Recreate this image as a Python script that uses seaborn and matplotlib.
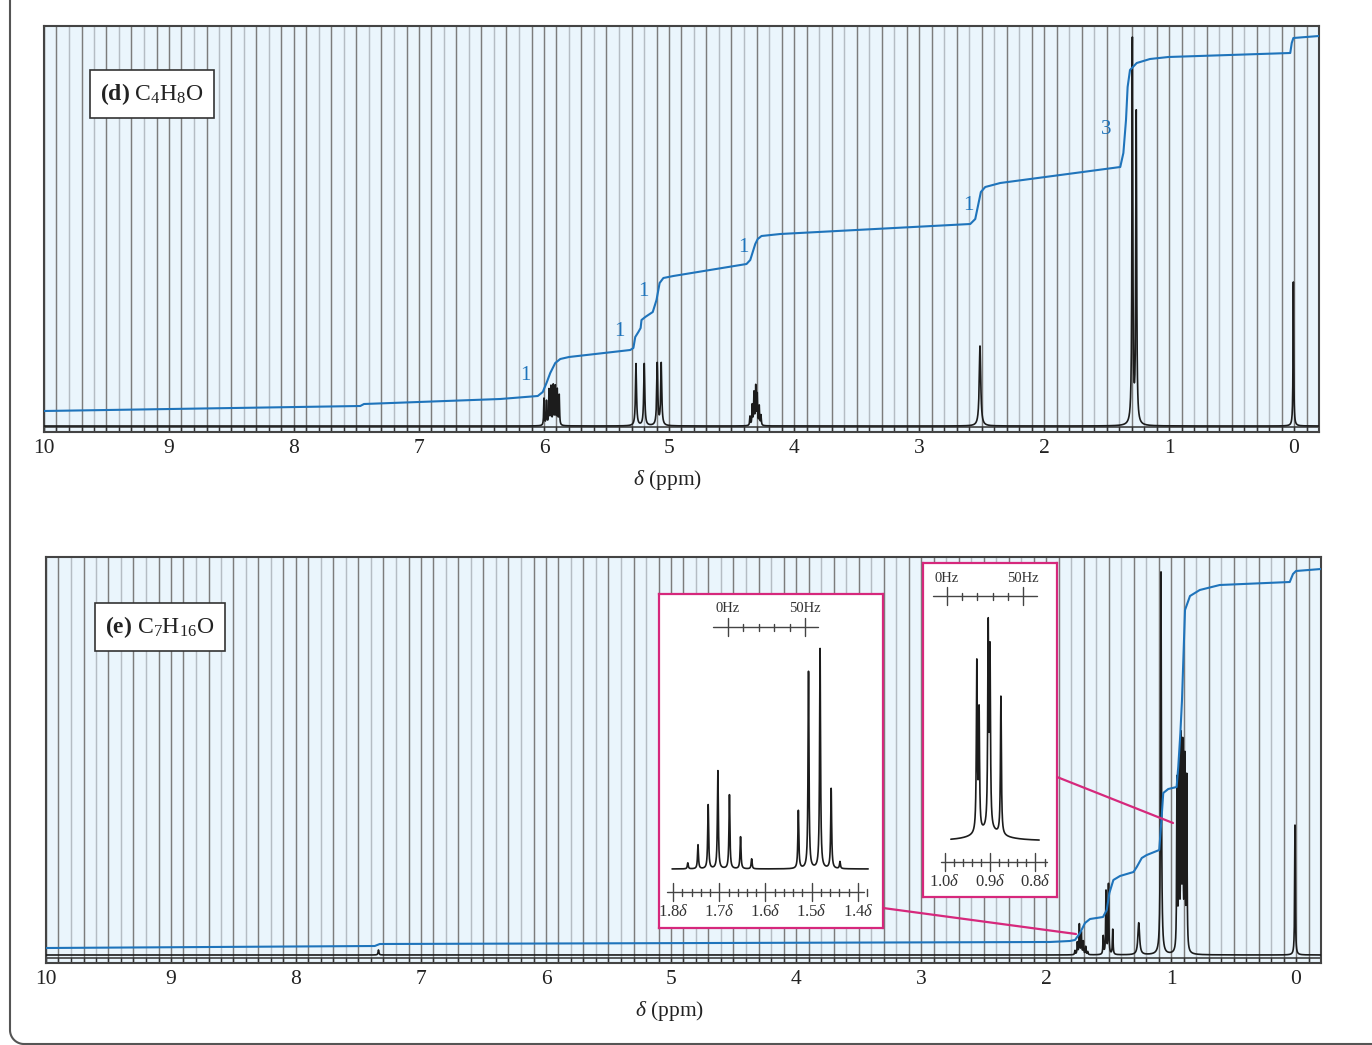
import numpy as np
import matplotlib
matplotlib.use('Agg')
import matplotlib.pyplot as plt
from matplotlib.lines import Line2D
import seaborn as sns

# peak lists (ppm, height in px above baseline, half width in ppm)
d_ppm = [6.00, 5.98, 5.96, 5.944, 5.926, 5.91, 5.894, 5.878,
         5.264, 5.198, 5.094, 5.062,
         4.352, 4.334, 4.32, 4.306, 4.294, 4.278, 4.264,
         2.512, 1.293, 1.262, 0.005]
d_height = [27, 24, 35, 38, 39, 38, 35, 30,
            62, 62, 62, 62,
            9, 20, 32, 38, 30, 19, 10,
            80, 384, 310, 144]
d_width = [0.003] * 8 + [0.005] * 4 + [0.003] * 7 + [0.007, 0.004, 0.004, 0.003]

# integration trace of (d)
d_int_ppm = [10.0, 7.47, 7.44, 6.35, 6.05, 6.01, 5.98, 5.95, 5.91, 5.87, 5.80, 5.31, 5.285,
             5.27, 5.245, 5.227, 5.22, 5.19, 5.13, 5.10, 5.075, 5.045, 4.965, 4.38, 4.35,
             4.33, 4.31, 4.29, 4.26, 4.11, 2.59, 2.55, 2.525, 2.505, 2.47, 2.35, 1.39, 1.365,
             1.344, 1.331, 1.312, 1.258, 1.152, 1.005, 0.03, 0.018, 0.005, -0.2]
d_int_h = [21, 26, 28, 33, 36, 40, 49, 59, 69, 73, 75, 82, 84,
           95, 100, 104, 112, 115, 120, 132, 149, 154, 156, 168, 172,
           180, 188, 193, 196, 198, 208, 213, 228, 240, 245, 249, 265, 279,
           312, 345, 362, 369, 373, 375, 379, 389, 394, 396]
d_int_labels = ['1', '1', '1', '1', '1', '3']
d_int_lab_ppm = [6.152, 5.40, 5.208, 4.408, 2.608, 1.504]
d_int_lab_h = [57, 100, 141, 184, 226, 302]

e_ppm = [7.34,
         1.768, 1.749, 1.733, 1.717, 1.701, 1.682, 1.666,
         1.542, 1.52, 1.50, 1.466,
         1.258, 1.08,
         0.952, 0.936, 0.92, 0.906, 0.89, 0.874,
         0.008]
e_height = [5,
            4, 12, 30, 22, 13, 8, 3,
            18, 63, 70, 25,
            32, 383,
            170, 182, 205, 198, 188, 172,
            130]
e_width = [0.004] + [0.003] * 7 + [0.003] * 4 + [0.008, 0.004] + [0.003] * 6 + [0.003]

e_int_ppm = [10.0, 7.37, 7.33, 1.97, 1.81, 1.768, 1.728, 1.688, 1.648, 1.544, 1.514, 1.493,
             1.461, 1.408, 1.30, 1.274, 1.234, 1.194, 1.094, 1.075, 1.062, 1.022, 0.955,
             0.942, 0.925, 0.912, 0.888, 0.848, 0.77, 0.61, 0.05, 0.024, 0.0, -0.2]
e_int_h = [15, 17, 19, 21, 22, 23, 30, 40, 44, 46, 53, 70,
           83, 87, 91, 96, 105, 108, 113, 146, 170, 174, 176,
           196, 230, 263, 353, 367, 373, 378, 381, 389, 392, 394]

# expansions
ins1_ppm = [1.768, 1.746, 1.724, 1.703, 1.678, 1.654, 1.630, 1.529, 1.507, 1.482, 1.458, 1.439]
ins1_height = [6, 24, 64, 98, 74, 32, 10, 58, 197, 220, 80, 7]
ins1_ticks = ['1.8', '1.7', '1.6', '1.5', '1.4']
ins2_ppm = [0.929, 0.924, 0.904, 0.900, 0.876]
ins2_height = [168, 118, 198, 172, 138]
ins2_ticks = ['1.0', '0.9', '0.8']
hz_labels = ['0Hz', '50Hz']

BG = '#eaf5fc'
BLUE = '#1f74bb'
MAG = '#d6287c'
INK = '#1c1c1c'

sns.set_theme(style='white')
plt.rcParams['font.family'] = ['Liberation Serif', 'DejaVu Serif']
plt.rcParams['mathtext.fontset'] = 'custom'
plt.rcParams['mathtext.rm'] = 'Liberation Serif'
plt.rcParams['mathtext.it'] = 'Liberation Serif:italic'
plt.rcParams['mathtext.bf'] = 'Liberation Serif:bold'

W, H = 1372, 1045
fig = plt.figure(figsize=(W / 100, H / 100), dpi=100)


def frac(px, py):
    return px / W, 1 - py / H


def lorentz(x, pos, hts, wid):
    y = np.zeros_like(x)
    for p, h, w in zip(pos, hts, np.broadcast_to(wid, len(pos))):
        y += h / (1 + ((x - p) / w) ** 2)
    return y


def main_panel(left, bottom_px, base, pos, hts, wid, ipos, ih):
    x0, y0 = frac(left, bottom_px)
    ax = fig.add_axes([x0, y0, 1275 / W, 406 / H])
    ax.set_facecolor(BG)
    ax.set_xlim(10, -0.2)
    ax.set_ylim(0, 406)
    ticks = np.round(np.arange(-0.2, 10.01, 0.1), 1)
    for t in ticks:
        k = int(round(t * 10))
        col = '#7c7c7c' if (k % 2 != 0 or k % 10 == 0) else '#b4bcc3'
        ax.axvline(t, color=col, lw=1.05, zorder=1)
        ax.plot([t, t], [0, 5], color='#333333', lw=1.0, zorder=1)
    ax.axhline(5, color='#333333', lw=1.1, zorder=1)
    xs = np.linspace(-0.2, 10, 40000)
    ys = base + lorentz(xs, pos, hts, wid)
    sns.lineplot(x=xs, y=ys, ax=ax, color=INK, lw=1.2, estimator=None, sort=False, zorder=3)
    sns.lineplot(x=ipos, y=ih, ax=ax, color=BLUE, lw=1.5, estimator=None, sort=False, zorder=4)
    ax.set_xticks(range(0, 11))
    ax.set_xticklabels([str(i) for i in range(0, 11)])
    ax.tick_params(axis='x', length=0, pad=5, labelsize=15.5, colors='#222222')
    ax.set_yticks([])
    ax.set_xlabel('')
    ax.set_ylabel('')
    for s in ax.spines.values():
        s.set_color('#444444')
        s.set_linewidth(1.5)
    return ax


ax_d = main_panel(44, 432, 6, d_ppm, d_height, d_width, d_int_ppm, d_int_h)
for lab, p, h in zip(d_int_labels, d_int_lab_ppm, d_int_lab_h):
    ax_d.text(p, h, lab, color=BLUE, fontsize=15, ha='center', va='center', zorder=5)

ax_e = main_panel(46, 963, 8, e_ppm, e_height, e_width, e_int_ppm, e_int_h)

fig.text(*frac(668, 480), r'$\delta$ (ppm)', fontsize=15.5, ha='center', va='center', color='#222222')
fig.text(*frac(670, 1011), r'$\delta$ (ppm)', fontsize=15.5, ha='center', va='center', color='#222222')

box = dict(boxstyle='square,pad=0.45', fc='white', ec='#333333', lw=1.2)
fig.text(*frac(152, 94), r'$\mathbf{(d)}$ C$_4$H$_8$O', fontsize=17, ha='center', va='center',
         bbox=box, color='#222222')
fig.text(*frac(160, 627), r'$\mathbf{(e)}$ C$_7$H$_{16}$O', fontsize=17, ha='center', va='center',
         bbox=box, color='#222222')


def inset(l, t, w, h, xl, base, spec_rng, pos, hts, wid, hz0, hz_rng, delta_rng, ticklabs,
          hz_y, delta_y, skirt=None):
    x0, y0 = frac(l, t + h)
    ax = fig.add_axes([x0, y0, w / W, h / H])
    ax.set_facecolor('white')
    ax.set_xlim(*xl)
    ax.set_ylim(0, h)
    ax.set_xticks([])
    ax.set_yticks([])
    for s in ax.spines.values():
        s.set_color(MAG)
        s.set_linewidth(1.6)
    xs = np.linspace(spec_rng[0], spec_rng[1], 6000)
    ys = base + lorentz(xs, pos, hts, wid)
    if skirt is not None:
        ys += lorentz(xs, [skirt[0]], [skirt[1]], skirt[2])
    sns.lineplot(x=xs, y=ys, ax=ax, color=INK, lw=1.2, estimator=None, sort=False)
    # Hz scale
    ax.plot(hz_rng, [hz_y, hz_y], color='#444444', lw=1.0)
    for k in range(6):
        p = hz0 - k * 10 / 300
        big = k in (0, 5)
        d = 9 if big else 3.5
        ax.plot([p, p], [hz_y - d, hz_y + d], color='#444444', lw=1.0)
    ax.text(hz0, hz_y + 18, hz_labels[0], ha='center', va='center', fontsize=10.5, color='#333333')
    ax.text(hz0 - 50 / 300, hz_y + 18, hz_labels[1], ha='center', va='center', fontsize=10.5,
            color='#333333')
    # delta scale
    ax.plot(delta_rng, [delta_y, delta_y], color='#444444', lw=1.0)
    first = float(ticklabs[0])
    for k in range(int(round((first - delta_rng[1]) / 0.02)) + 1):
        p = first - k * 0.02
        big = k % 5 == 0
        d = 9 if big else 3.5
        ax.plot([p, p], [delta_y - d, delta_y + d], color='#444444', lw=1.0)
    for lab in ticklabs:
        ax.text(float(lab), delta_y - 20, lab + r'$\delta$', ha='center', va='center',
                fontsize=12, color='#333333')
    return ax


inset(659, 594, 224, 334, (1.8303, 1.3459), 59, (1.802, 1.378), ins1_ppm, ins1_height, 0.0012,
      1.681, (1.7135, 1.4865), (1.813, 1.387), ins1_ticks, 301, 36)
inset(923, 563, 134, 334, (1.0473, 0.7527), 56, (0.986, 0.792), ins2_ppm, ins2_height, 0.0012,
      0.9945, (1.025, 0.797), (1.008, 0.774), ins2_ticks, 301, 35, skirt=(0.905, 10, 0.035))

# connector lines from the expansions to the spectrum
for (ax1, ay1), (ax2, ay2) in [((883, 908), (1076, 934)), ((1057, 777), (1173, 823))]:
    p1, p2 = frac(ax1, ay1), frac(ax2, ay2)
    fig.add_artist(Line2D([p1[0], p2[0]], [p1[1], p2[1]], transform=fig.transFigure,
                          color=MAG, lw=1.6, zorder=10))

# page frame on the left
ang = np.linspace(np.pi, 1.5 * np.pi, 20)
cx, cy, r = 24, 1030, 14
fx = [10, 10] + list(cx + r * np.cos(ang)) + [W + 5]
fy = [-5, 1030] + list(cy - r * np.sin(ang)) + [1044]
fig.add_artist(Line2D([x / W for x in fx], [1 - y / H for y in fy], transform=fig.transFigure,
                      color='#555555', lw=1.5))

fig.savefig('out.png', dpi=100)
